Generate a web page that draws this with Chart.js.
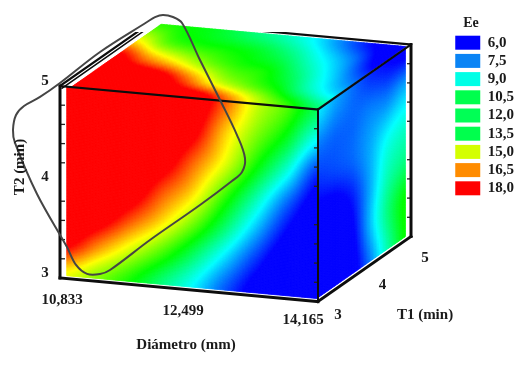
<!DOCTYPE html>
<html>
<head>
<meta charset="utf-8">
<script src="https://cdn.jsdelivr.net/npm/chart.js@4"></script>
<style>
html,body{margin:0;padding:0;background:#fff}
canvas{display:block}
</style>
</head>
<body>
<canvas id="chart" width="529" height="369"></canvas>
<script>
const niveles=['6,0','7,5','9,0','10,5','12,0','13,5','15,0','16,5','18,0']
const coloresNivel=['#0000ff','#0a84f5','#00ffe6','#00ff4d','#00ff55','#00ff4d','#d4ff00','#ff8c00','#ff0000']

const diametroTicks=[10.833,12.499,14.165]
const t1Ticks=[3,4,5]
const t2Ticks=[3,4,5]
const marcasT2=[3.2,3.4,3.6,3.8,4.2,4.4,4.6,4.8]

const caraFrontal=[
    [19.5,19.5,19.5,19.5,19.3,17.1,14.5,13,11],
    [19.5,19.5,19.5,19.5,18.6,15.8,13.6,11.7,9],
    [19.5,19.5,19.5,19,17,14.8,12.2,9.6,6.6],
    [19.5,19.5,19.2,17.3,15.5,12.8,10.1,7.4,5.4],
    [19.5,19,17.3,15.5,13.4,10.9,8.3,6,4.8],
    [18.3,16.4,14.6,12.9,10.9,8.7,6.6,5,4.6],
    [14.8,13.5,12.2,10.6,9,7.1,5.5,4.6,4.4]
]
// cara superior, T1 de 3 a 5 (filas), diametro creciente (columnas)
const caraSuperior=[
    [19.5,19.5,19.5,19.5,19.3,17,14.5,12.7,10.8],
    [19.5,19.5,19,17,14.7,13.3,12,10,8.5],
    [18.5,16.5,15,13.5,12.5,12,10.5,8.7,7],
    [15,13,12.3,12,11.5,10.5,9,7.5,5.5],
    [12.5,12,11.5,10.7,10,9,7.5,6,5]
]
// cara derecha, T2 de 5 a 3 (filas), T1 creciente (columnas)
const caraDerecha=[
    [8.8,8,7.3,6.5,6,5.5],
    [7.4,7.2,7.2,7.5,7.5,8],
    [6.5,6.8,7.2,8,9,9.5],
    [5.5,5.5,6.3,8,9.8,10.5],
    [5,5,5.8,8.2,10.5,12],
    [5,5,5.5,7.5,10,12]
]

// trazo a mano alzada, en unidades de diametro y T2 sobre el plano frontal
const lazoDiametro=[11.957,12.06,12.163,12.292,12.409,12.641,12.9,13.119,13.222,13.184,13.054,12.641,11.995,11.479,11.35,11.182,11.04,10.923,10.536,10.252,10.226,10.265,10.368,10.575,10.833,11.35,11.957]
const lazoT2=[5.749,5.808,5.838,5.826,5.772,5.403,5.006,4.657,4.425,4.277,4.174,3.893,3.481,3.131,3.079,3.068,3.151,3.329,3.853,4.364,4.497,4.656,4.757,4.867,5.031,5.392,5.749]

const rampaValor=[6,7.5,9,10.5,12,13.5,15,16.5,18]
const rampaColor=[[0,0,255],[0,128,255],[0,255,255],[0,255,128],[0,255,0],[128,255,0],[255,255,0],[255,128,0],[255,0,0]]

function proyectar(d,t1,t2){
    const u=(d-10.833)/3.332
    const w=(t1-3)/2
    const v=(t2-3)/2
    return {x:60+258*u+93*w, y:278+23.5*u-65*w-192*v}
}

function colorDe(valor){
    if(valor<=rampaValor[0]) return 'rgb(0,0,255)'
    if(valor>=18) return 'rgb(255,0,0)'
    let i=0
    while(valor>rampaValor[i+1]) i++
    const f=(valor-rampaValor[i])/1.5
    const a=rampaColor[i], b=rampaColor[i+1]
    return `rgb(${a[0]+(b[0]-a[0])*f},${a[1]+(b[1]-a[1])*f},${a[2]+(b[2]-a[2])*f})`
}

// suavizado entre los valores leidos, solo para pintar
function suave(a,b,c,d,t){
    return b+.5*t*(c-a+t*(2*a-5*b+4*c-d+t*(3*(b-c)+d-a)))
}

function valorEn(grilla,a,b){
    const filas=grilla.length-1, cols=grilla[0].length-1
    const ca=a*cols, fb=b*filas
    const c=Math.min(Math.floor(ca),cols-1), f=Math.min(Math.floor(fb),filas-1)
    const col=(i)=>grilla[Math.max(0,Math.min(filas,i))]
    const fila=(g)=>suave(g[Math.max(0,c-1)],g[c],g[c+1],g[Math.min(cols,c+2)],ca-c)
    return suave(fila(col(f-1)),fila(col(f)),fila(col(f+1)),fila(col(f+2)),fb-f)
}

function pintarCara(chart,grilla,puntoCara,nA,nB){
    const ctx=chart.ctx
    const sx=chart.scales.x, sy=chart.scales.y
    const pix=(a,b)=>{
        const p=puntoCara(a,b)
        return [sx.getPixelForValue(p.x),sy.getPixelForValue(p.y)]
    }
    ctx.lineWidth=.8
    for(let i=0;i<nA;i++){
        for(let j=0;j<nB;j++){
            const p1=pix(i/nA,j/nB), p2=pix((i+1)/nA,j/nB), p3=pix((i+1)/nA,(j+1)/nB), p4=pix(i/nA,(j+1)/nB)
            ctx.fillStyle=colorDe(valorEn(grilla,(i+.5)/nA,(j+.5)/nB))
            ctx.strokeStyle=ctx.fillStyle
            ctx.beginPath()
            ctx.moveTo(p1[0],p1[1]);ctx.lineTo(p2[0],p2[1]);ctx.lineTo(p3[0],p3[1]);ctx.lineTo(p4[0],p4[1])
            ctx.closePath()
            ctx.fill()
            ctx.stroke()
        }
    }
}

const pluginCaras={
    id:'caras',
    beforeDatasetsDraw(chart){
        pintarCara(chart,caraSuperior,(a,b)=>proyectar(10.98+(14.14-10.98)*a,3+1.93*b,5),180,60)
        pintarCara(chart,caraDerecha,(a,b)=>proyectar(14.165,3+1.88*a,5-1.96*b),60,130)
        pintarCara(chart,caraFrontal,(a,b)=>proyectar(10.92+(14.165-10.92)*a,3,5-1.97*b),170,130)
    }
}

const pluginTextos={
    id:'textos',
    afterDatasetsDraw(chart){
        const ctx=chart.ctx
        ctx.save()
        ctx.fillStyle='#1a1a1a'
        ctx.font='bold 15px "Liberation Serif"'
        ctx.textAlign='center'
        ctx.textBaseline='middle'
        diametroTicks.forEach((d,i)=>{
            const p=proyectar(d,3,3)
            ctx.fillText(d.toFixed(3).replace('.',','),p.x+[2,-6,-15][i],p.y+[22,21,19][i])
        })
        t1Ticks.forEach((t,i)=>{
            const p=proyectar(14.165,t,3)
            ctx.fillText(String(t),p.x+[20,18,14][i],p.y+[14,16,22][i])
        })
        t2Ticks.forEach(t=>{
            const p=proyectar(10.833,3,t)
            ctx.fillText(String(t),p.x-15,p.y-5)
        })
        ctx.fillText('Diámetro (mm)',186,345)
        ctx.fillText('T1 (min)',425,315)
        ctx.font='bold 14px "Liberation Serif"'
        ctx.fillText('Ee',471,23)
        ctx.translate(20,167)
        ctx.rotate(-Math.PI/2)
        ctx.font='bold 15px "Liberation Serif"'
        ctx.fillText('T2 (min)',0,0)
        ctx.restore()
    }
}

function arista(d0,t10,t20,d1,t11,t21,grosor){
    return {
        data:[proyectar(d0,t10,t20),proyectar(d1,t11,t21)],
        showLine:true,
        borderColor:'#0d0d0d',
        borderWidth:grosor,
        pointRadius:0,
        borderCapStyle:'square'
    }
}

function marcas(d,t1,desplazado){
    return {
        data:marcasT2.map(t=>{
            const p=proyectar(d,t1,t)
            return {x:p.x+desplazado,y:p.y}
        }),
        showLine:false,
        pointStyle:'line',
        pointRadius:2,
        pointBorderWidth:1.3,
        pointBorderColor:'#222'
    }
}

const ctx=document.getElementById('chart')
const chart=new Chart(ctx,{
    type:'scatter',
    data:{
        datasets:[
            {
                data:lazoDiametro.map((d,i)=>proyectar(d,3,lazoT2[i])),
                showLine:true,
                borderColor:'#454545',
                borderWidth:2,
                pointRadius:0,
                tension:.35,
                clip:false
            },
            arista(10.833,3,3,10.833,3,5,3),
            arista(10.833,3,3,14.165,3,3,3),
            arista(14.165,3,3,14.165,3,5,2),
            arista(10.833,3,5,14.165,3,5,2.2),
            arista(14.165,3,3,14.165,5,3,3),
            arista(14.165,5,3,14.165,5,5,3),
            arista(14.165,3,5,14.165,5,5,2.2),
            arista(10.833,5,5,14.165,5,5,2.2),
            arista(10.833,3,5,10.833,5,5,2.2),
            arista(10.86,3,4.98,10.86,5,4.98,1.5),
            arista(10.833,5,5,10.833,5,4.92,1.5),
            marcas(10.833,3,3),
            marcas(14.165,3,-2),
            marcas(14.165,5,-2)
        ]
    },
    plugins:[pluginCaras,pluginTextos],
    options:{
        responsive:false,
        animation:false,
        layout:{autoPadding:false,padding:{top:32,right:5}},
        scales:{
            x:{type:'linear',display:false,min:0,max:450},
            y:{type:'linear',display:false,min:32,max:369,reverse:true}
        },
        plugins:{
            tooltip:{enabled:false},
            legend:{
                position:'right',
                align:'start',
                labels:{
                    boxWidth:25,
                    boxHeight:14,
                    padding:3.2,
                    color:'#1a1a1a',
                    font:{family:'"Liberation Serif"',size:15,weight:'bold'},
                    generateLabels(){
                        return niveles.map((n,i)=>({text:n,fontColor:'#1a1a1a',fillStyle:coloresNivel[i],strokeStyle:coloresNivel[i],lineWidth:0,index:i}))
                    }
                }
            }
        }
    }
})
// el eje x queda en pixeles: su maximo es el ancho real del area
chart.options.scales.x.max=chart.chartArea.right-chart.chartArea.left
chart.update()
</script>
</body>
</html>
